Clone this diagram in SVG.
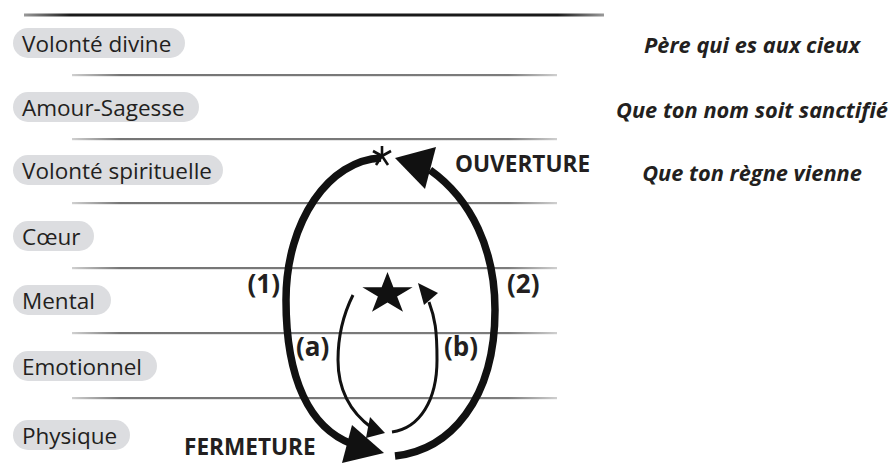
<svg xmlns="http://www.w3.org/2000/svg" width="891" height="468" viewBox="0 0 891 468">
<defs>
<linearGradient id="gTop" x1="0" y1="0" x2="1" y2="0">
<stop offset="0" stop-color="#9a9a9a"/><stop offset="0.08" stop-color="#1a1a1a"/><stop offset="0.92" stop-color="#1a1a1a"/><stop offset="1" stop-color="#9a9a9a"/>
</linearGradient>
<linearGradient id="gLine" x1="0" y1="0" x2="1" y2="0">
<stop offset="0" stop-color="#d0d0d0"/><stop offset="0.1" stop-color="#757575"/><stop offset="0.9" stop-color="#7c7c7c"/><stop offset="1" stop-color="#d0d0d0"/>
</linearGradient>
</defs>
<style>
.pill{fill:#dcdde0}
.lbl{font-family:"Open Sans","Noto Sans",sans-serif;font-size:22.5px;fill:#231f20}
.ital{font-family:"Open Sans","Noto Sans",sans-serif;font-size:21.8px;font-weight:bold;font-style:italic;fill:#231f20;text-anchor:middle}
.bold{font-family:"Open Sans","Noto Sans",sans-serif;font-size:22.6px;font-weight:bold;fill:#231f20}
.num{font-family:"Open Sans","Noto Sans",sans-serif;font-size:26px;font-weight:bold;fill:#231f20}
.thick{fill:none;stroke:#111;stroke-width:7.5}
.thin{fill:none;stroke:#111;stroke-width:3}
.head{fill:#111}
</style>
<g id="levels">
<rect x="24" y="13.5" width="580" height="3" fill="url(#gTop)"/>
<rect x="72" y="74" width="485" height="2.2" fill="url(#gLine)"/>
<rect x="72" y="138" width="485" height="2.2" fill="url(#gLine)"/>
<rect x="72" y="202" width="485" height="2.2" fill="url(#gLine)"/>
<rect x="72" y="267" width="485" height="2.2" fill="url(#gLine)"/>
<rect x="72" y="332" width="485" height="2.2" fill="url(#gLine)"/>
<rect x="72" y="397" width="485" height="2.2" fill="url(#gLine)"/>
</g>
<g id="n-volonte-divine"><rect class="pill" x="13" y="28" width="172" height="30" rx="15"/><text class="lbl" x="22" y="51.5">Volonté divine</text></g>
<g id="n-amour-sagesse"><rect class="pill" x="13" y="92" width="186" height="30" rx="15"/><text class="lbl" x="22" y="115.5">Amour-Sagesse</text></g>
<g id="n-volonte-spirituelle"><rect class="pill" x="13" y="155" width="210" height="30" rx="15"/><text class="lbl" x="22" y="178.5">Volonté spirituelle</text></g>
<g id="n-coeur"><rect class="pill" x="13" y="221" width="81" height="30" rx="15"/><text class="lbl" x="22" y="244.5">Cœur</text></g>
<g id="n-mental"><rect class="pill" x="13" y="285" width="98" height="30" rx="15"/><text class="lbl" x="22" y="308.5">Mental</text></g>
<g id="n-emotionnel"><rect class="pill" x="13" y="351" width="144" height="30" rx="15"/><text class="lbl" x="22" y="374.5">Emotionnel</text></g>
<g id="n-physique"><rect class="pill" x="13" y="420" width="117" height="30" rx="15"/><text class="lbl" x="22" y="443.5">Physique</text></g>
<g id="prayer">
<text class="ital" x="752" y="53">Père qui es aux cieux</text>
<text class="ital" x="752" y="118">Que ton nom soit sanctifié</text>
<text class="ital" x="752" y="181">Que ton règne vienne</text>
</g>
<g id="star"><polygon class="head" points="387.5,272 393.4,287.2 412.6,287.2 397.1,296.6 403,311.8 387.5,302.4 372,311.8 377.9,296.6 362.4,287.2 381.6,287.2"/></g>
<g id="asterisk" stroke="#111" stroke-width="2.6" stroke-linecap="butt">
<line x1="382" y1="146" x2="382" y2="156"/>
<line x1="373" y1="151" x2="382" y2="156"/>
<line x1="391" y1="151" x2="382" y2="156"/>
<line x1="376" y1="165" x2="382" y2="156"/>
<line x1="388" y1="165" x2="382" y2="156"/>
</g>
<g id="connectors">
<path class="thick" d="M 381 158 C 330 160, 286 220, 286 300 C 286 380, 310 428, 352 444"/>
<polygon class="head" points="384,453 352,425 342,463"/>
<path class="thick" d="M 395 456 C 450 450, 495 400, 495 310 C 495 250, 472 200, 430 170"/>
<polygon class="head" points="395,158 436,147 425,189"/>
<path class="thin" d="M 353 295 C 343 315, 338 335, 338 360 C 338 390, 350 412, 372 428"/>
<polygon class="head" points="385,433 370,417 366,438"/>
<path class="thin" d="M 392 432 C 420 428, 437 400, 437 360 C 437 330, 435 318, 429 302"/>
<polygon class="head" points="418,283 438,293 424,305"/>
</g>
<g id="labels">
<text class="bold" x="455" y="172">OUVERTURE</text>
<text class="bold" x="184" y="455">FERMETURE</text>
<text class="num" x="280" y="293" text-anchor="end">(1)</text>
<text class="num" x="507" y="293">(2)</text>
<text class="num" x="296" y="356">(a)</text>
<text class="num" x="444" y="356">(b)</text>
</g>
</svg>
